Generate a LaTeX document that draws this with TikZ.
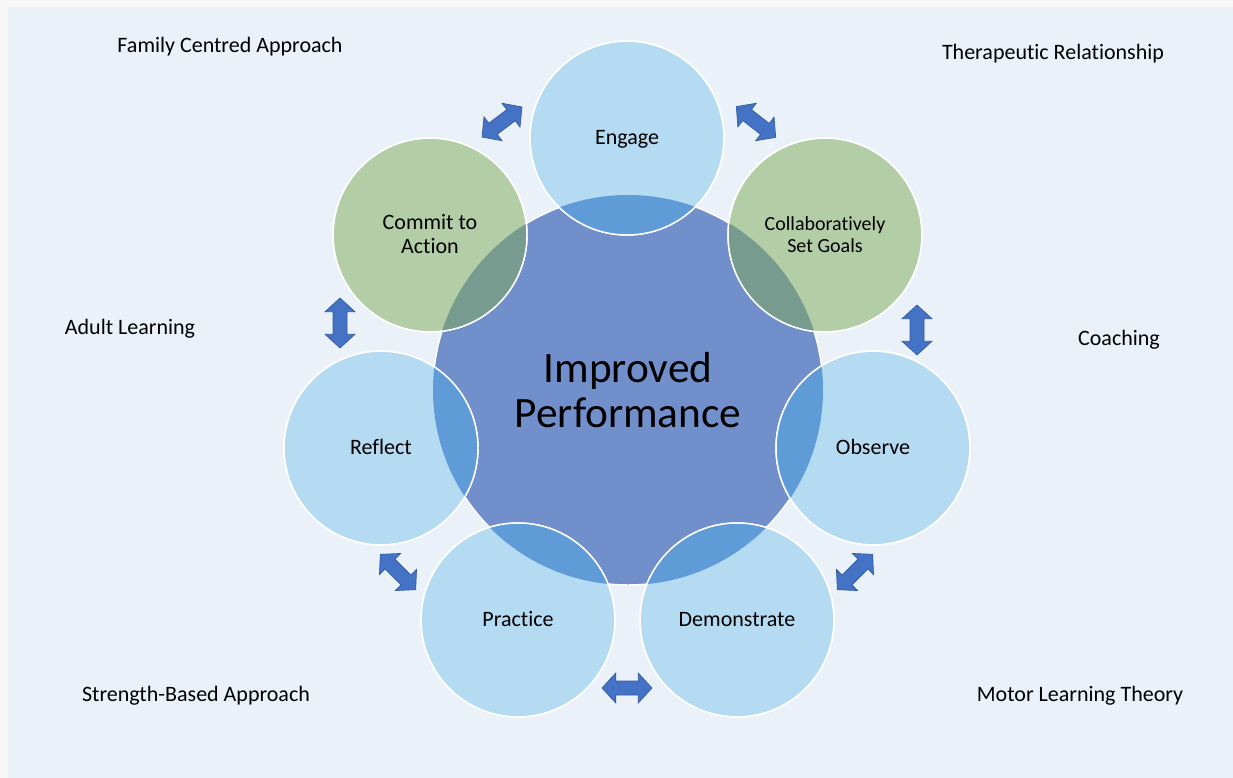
\documentclass[tikz,border=0pt]{standalone}
\usepackage{fontspec}
\setmainfont{Carlito}[Ligatures=NoCommon]
\usetikzlibrary{shapes.arrows}
\definecolor{paper}{HTML}{F7F7F7}
\definecolor{pagebg}{HTML}{EAF1F9}
\definecolor{skyfill}{HTML}{B5DBF2}
\definecolor{sagefill}{HTML}{B3CEA6}
\definecolor{hubfill}{HTML}{7190CB}
\definecolor{skylens}{HTML}{5F9BD6}
\definecolor{sagelens}{HTML}{779C8F}
\definecolor{cyclearrow}{HTML}{4472C4}
% overlap of a stage circle with the hub, then its rim again
\newcommand{\lens}[2]{%
  \begin{scope}
    \clip (#1.center) circle[radius=97];
    \fill[#2] (hub.center) circle[radius=195];
  \end{scope}
  \draw[rim] (#1.center) circle[radius=97];}

\begin{document}
\begin{tikzpicture}[
  x=0.75pt, y=-0.75pt,
  rim/.style={draw=white, line width=1.1pt},
  hub/.style={circle, rim, fill=hubfill, minimum size=292.5pt, inner sep=0pt,
    align=center, font=\fontsize{32.5}{34}\selectfont},
  stage/.style={circle, rim, minimum size=145.5pt, inner sep=0pt,
    align=center, font=\fontsize{16.5}{18}\selectfont},
  solo/.style={stage, text height=0.95em, text depth=0pt},
  sky/.style={fill=skyfill},
  sage/.style={fill=sagefill},
  link/.style={double arrow, fill=cyclearrow, draw=cyclearrow!80!black,
    line width=0.5pt, minimum height=37.5pt, inner sep=5pt,
    double arrow head extend=6pt, double arrow tip angle=95},
  note/.style={anchor=base, font=\fontsize{16.5}{18}\selectfont},
]
  \useasboundingbox (0,0) rectangle (1233,778);
  \fill[paper] (0,0) rectangle (1233,778);
  \fill[pagebg] (8,7) rectangle (1233,778);

  % ── Hub and the seven stages ─────────────────────────────────────────
  \node[hub] (hub) at (628,390) {Improved\\Performance};
  \node[solo, sky]  (eng)  at (627,138) {Engage};
  \node[stage, sage, font=\fontsize{15}{16.5}\selectfont] (goal) at (825,235)
    {Collaboratively\\Set Goals};
  \node[solo, sky]  (obs)  at (873,448) {Observe};
  \node[solo, sky]  (demo) at (737,620) {Demonstrate};
  \node[solo, sky]  (prac) at (518,620) {Practice};
  \node[solo, sky]  (refl) at (381,448) {Reflect};
  \node[stage, sage, text height=2.84em] (act) at (430,235) {Commit to\\Action};

  % ── Overlaps with the hub ────────────────────────────────────────────
  \lens{eng}{skylens}
  \lens{goal}{sagelens}
  \lens{obs}{skylens}
  \lens{demo}{skylens}
  \lens{prac}{skylens}
  \lens{refl}{skylens}
  \lens{act}{sagelens}

  % ── Two-way arrows between neighbours ────────────────────────────────
  \node[link, rotate=37]  (a1) at (502,122) {};
  \node[link, rotate=-38] (a2) at (756,122) {};
  \node[link, rotate=90]  (a3) at (917,330) {};
  \node[link, rotate=45]  (a4) at (855,572) {};
  \node[link]             (a5) at (627,688) {};
  \node[link, rotate=-45] (a6) at (398,572) {};
  \node[link, rotate=90]  (a7) at (340,323) {};

  % ── Underlying approaches ────────────────────────────────────────────
  \node[note] (fca) at (230,52)  {Family Centred Approach};
  \node[note] (tr)  at (1053,59) {Therapeutic Relationship};
  \node[note] (al)  at (130,334) {Adult Learning};
  \node[note] (co)  at (1119,345) {Coaching};
  \node[note] (sba) at (196,701) {Strength-Based Approach};
  \node[note] (mlt) at (1080,701) {Motor Learning Theory};
\end{tikzpicture}
\end{document}
